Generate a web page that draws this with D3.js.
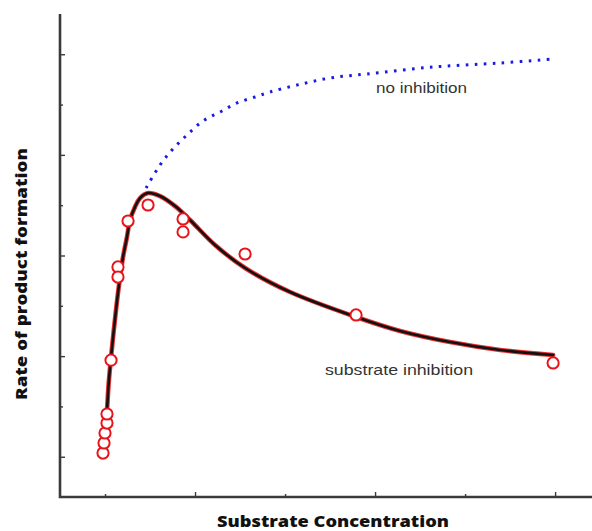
<!DOCTYPE html>
<html>
<head>
<meta charset="utf-8">
<script src="https://cdn.jsdelivr.net/npm/d3@7"></script>
<style>
  html, body { margin: 0; padding: 0; background: #fff; }
  svg { display: block; }
</style>
</head>
<body>
<svg id="chart" width="592" height="531"></svg>
<script>
// Measured reaction rates (substrate concentration, rate)
const obsConc = [4.78, 4.89, 5.0, 5.22, 5.22, 5.67, 6.44, 6.44, 7.56, 9.78, 13.67, 13.67, 20.56, 32.89, 54.78];
const obsRate = [4.37, 5.37, 6.36, 7.35, 8.25, 13.6, 22.86, 21.86, 27.43, 29.02, 27.63, 26.34, 24.15, 18.09, 13.32];

// Fitted curve with substrate inhibition
const inhConc = [4.78, 5.0, 5.22, 5.4, 5.67, 6.22, 6.67, 7.0, 7.44, 7.78, 8.33, 8.89, 9.78, 11.11, 12.78, 14.44, 17.22, 20.56, 25.56, 32.89, 37.78, 43.33, 48.89, 54.78];
const inhRate = [4.17, 6.46, 8.65, 11.2, 13.9, 18.58, 21.86, 23.85, 25.84, 27.53, 28.82, 29.71, 30.21, 29.91, 28.91, 27.53, 25.04, 22.76, 20.37, 17.89, 16.50, 15.40, 14.61, 14.11];

// Curve expected without inhibition
const freeConc = [9.56, 11.11, 12.44, 14.11, 15.89, 17.78, 19.67, 21.67, 23.33, 26.33, 30.0, 34.11, 41.44, 48.89, 54.78];
const freeRate = [30.7, 32.99, 34.48, 35.98, 37.37, 38.26, 39.16, 39.75, 40.25, 40.94, 41.64, 42.04, 42.73, 43.13, 43.53];

// Axis tick positions
const xMajorTicks = [15, 35, 55];
const xMinorTicks = [5, 25, 45];
const yMajorTicks = [4, 14, 24, 34, 44];
const yMinorTicks = [9, 19, 29, 39];

const svg = d3.select("#chart");
const plot = { left: 60, bottom: 497, top: 14, right: 592 };

const x = d3.scaleLinear().domain([0, 59.1]).range([plot.left, plot.right]);
const y = d3.scaleLinear().domain([0, 48]).range([plot.bottom, plot.top]);

const axisColor = "#3a3a3a";

// Tick marks point inward from both axes
const xAxisMajor = d3.axisTop(x).tickValues(xMajorTicks).tickSize(5).tickFormat("");
const xAxisMinor = d3.axisTop(x).tickValues(xMinorTicks).tickSize(3).tickFormat("");
const yAxisMajor = d3.axisRight(y).tickValues(yMajorTicks).tickSize(5).tickFormat("");
const yAxisMinor = d3.axisRight(y).tickValues(yMinorTicks).tickSize(3).tickFormat("");

function styleAxis(g) {
  g.select(".domain").remove();
  g.selectAll(".tick line").attr("stroke", axisColor).attr("stroke-width", 1.4);
}
svg.append("g").attr("transform", `translate(0,${plot.bottom})`).call(xAxisMajor).call(styleAxis);
svg.append("g").attr("transform", `translate(0,${plot.bottom})`).call(xAxisMinor).call(styleAxis);
svg.append("g").attr("transform", `translate(${plot.left},0)`).call(yAxisMajor).call(styleAxis);
svg.append("g").attr("transform", `translate(${plot.left},0)`).call(yAxisMinor).call(styleAxis);

// Axis lines
svg.append("path")
  .attr("d", `M${plot.left},${plot.top}V${plot.bottom}H${plot.right}`)
  .attr("fill", "none")
  .attr("stroke", axisColor)
  .attr("stroke-width", 2.6);

const line = d3.line().x(d => x(d[0])).y(d => y(d[1])).curve(d3.curveCatmullRom.alpha(0.5));

// No-inhibition curve (dotted blue)
svg.append("path")
  .datum(d3.zip(freeConc, freeRate))
  .attr("d", line)
  .attr("fill", "none")
  .attr("stroke", "#1a1ae6")
  .attr("stroke-width", 3)
  .attr("stroke-dasharray", "2.6,6.4");

// Substrate-inhibition curve: red halo under a black line
const inhData = d3.zip(inhConc, inhRate);
svg.append("path")
  .datum(inhData)
  .attr("d", line)
  .attr("fill", "none")
  .attr("stroke", "#e83030")
  .attr("stroke-width", 4.6)
  .attr("stroke-linecap", "round");
svg.append("path")
  .datum(inhData)
  .attr("d", line)
  .attr("fill", "none")
  .attr("stroke", "#111")
  .attr("stroke-width", 2.6)
  .attr("stroke-linecap", "round");

// Observed points
svg.append("g")
  .selectAll("circle")
  .data(d3.zip(obsConc, obsRate))
  .join("circle")
  .attr("cx", d => x(d[0]))
  .attr("cy", d => y(d[1]))
  .attr("r", 5.6)
  .attr("fill", "#fff")
  .attr("stroke", "#e8141c")
  .attr("stroke-width", 2);

// Curve labels
svg.append("text")
  .attr("x", 376).attr("y", 93)
  .attr("font-family", "Liberation Sans, Arial, sans-serif")
  .attr("font-size", 15)
  .attr("fill", "#333")
  .attr("textLength", 91)
  .attr("lengthAdjust", "spacingAndGlyphs")
  .text("no inhibition");

svg.append("text")
  .attr("x", 325).attr("y", 375)
  .attr("font-family", "Liberation Sans, Arial, sans-serif")
  .attr("font-size", 15)
  .attr("fill", "#333")
  .attr("textLength", 148)
  .attr("lengthAdjust", "spacingAndGlyphs")
  .text("substrate inhibition");

// Axis titles
svg.append("text")
  .attr("x", 333).attr("y", 527)
  .attr("text-anchor", "middle")
  .attr("font-family", "Open Sans, DejaVu Sans, sans-serif")
  .attr("font-weight", 800)
  .attr("font-size", 15)
  .attr("fill", "#111")
  .attr("textLength", 232)
  .attr("lengthAdjust", "spacingAndGlyphs")
  .text("Substrate Concentration");

svg.append("text")
  .attr("transform", "translate(27,274) rotate(-90)")
  .attr("text-anchor", "middle")
  .attr("font-family", "Open Sans, DejaVu Sans, sans-serif")
  .attr("font-weight", 800)
  .attr("font-size", 15)
  .attr("fill", "#111")
  .attr("textLength", 252)
  .attr("lengthAdjust", "spacingAndGlyphs")
  .text("Rate of product formation");
</script>
</body>
</html>
